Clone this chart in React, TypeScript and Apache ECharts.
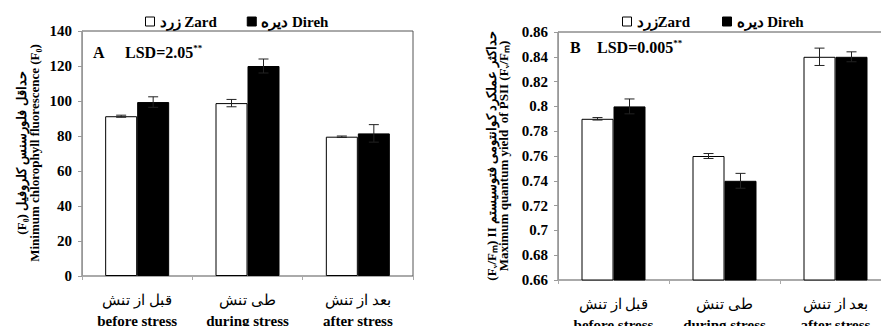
import React, { useEffect, useRef } from "react";
import * as echarts from "echarts";

const categoriesEn = ["before stress", "during stress", "after stress"];
const categoriesFa = ["قبل از تنش", "طی تنش", "بعد از تنش"];
const seriesNames = ["زرد Zard", "دیره Direh"];

// Panel A: minimum chlorophyll fluorescence (F0)
const f0Zard = [91.3, 98.8, 79.6];
const f0ZardErr = [0.6, 2.1, 0.4];
const f0Direh = [99.4, 120, 81.5];
const f0DirehErr = [3, 4, 5];

// Panel B: maximum quantum yield of PSII (Fv/Fm)
const fvfmZard = [0.79, 0.76, 0.84];
const fvfmZardErr = [0.001, 0.002, 0.007];
const fvfmDireh = [0.8, 0.74, 0.84];
const fvfmDirehErr = [0.006, 0.006, 0.004];

const yTicksA = { min: 0, max: 140, interval: 20 };
const yTicksB = { min: 0.66, max: 0.86, interval: 0.02 };

const SERIF = "'Liberation Serif', 'Times New Roman', serif";

function errData(vals: number[], errs: number[]) {
  return vals.map((v, i) => [i, v - errs[i], v + errs[i]]);
}

function errSeries(gridIdx: number, vals: number[], errs: number[], offset: number) {
  return {
    type: "custom",
    xAxisIndex: gridIdx,
    yAxisIndex: gridIdx,
    silent: true,
    z: 5,
    encode: { x: 0, y: [1, 2] },
    data: errData(vals, errs),
    renderItem: (params: any, api: any) => {
      const lo = api.coord([api.value(0), api.value(1)]);
      const hi = api.coord([api.value(0), api.value(2)]);
      const x = lo[0] + offset;
      const half = 5;
      const style = { stroke: "#222", lineWidth: 1 };
      return {
        type: "group",
        children: [
          { type: "line", shape: { x1: x, y1: lo[1], x2: x, y2: hi[1] }, style },
          { type: "line", shape: { x1: x - half, y1: hi[1], x2: x + half, y2: hi[1] }, style },
          { type: "line", shape: { x1: x - half, y1: lo[1], x2: x + half, y2: lo[1] }, style },
        ],
      };
    },
  };
}

function xAxisCfg(gridIndex: number) {
  return {
    type: "category",
    gridIndex,
    data: categoriesEn,
    axisLine: { show: true, lineStyle: { color: "#aaa", width: 1 } },
    axisTick: { show: true, length: 4, lineStyle: { color: "#aaa" } },
    axisLabel: {
      interval: 0,
      margin: 13,
      formatter: (v: string, i: number) => `{fa|${categoriesFa[i]}}\n{en|${v}}`,
      rich: {
        fa: { fontFamily: SERIF, fontSize: 15, fontWeight: "normal", color: "#000", lineHeight: 21 },
        en: { fontFamily: SERIF, fontSize: 15, fontWeight: "bold", color: "#000", lineHeight: 21 },
      },
    },
    splitLine: { show: false },
  };
}

function yAxisCfg(gridIndex: number, t: { min: number; max: number; interval: number }) {
  return {
    type: "value",
    gridIndex,
    min: t.min,
    max: t.max,
    interval: t.interval,
    axisLine: { show: true, lineStyle: { color: "#999", width: 1 } },
    axisTick: { show: true, length: 4, lineStyle: { color: "#999" } },
    axisLabel: {
      margin: 10,
      fontFamily: SERIF,
      fontSize: 15,
      fontWeight: "bold",
      color: "#000",
    },
    splitLine: { show: false },
  };
}

function barSeries(gridIdx: number, name: string, data: number[], white: boolean) {
  return {
    type: "bar",
    name,
    xAxisIndex: gridIdx,
    yAxisIndex: gridIdx,
    data,
    barWidth: 32,
    barGap: "0%",
    itemStyle: white
      ? { color: "#fff", borderColor: "#000", borderWidth: 1 }
      : { color: "#000", borderColor: "#000", borderWidth: 1 },
  };
}

function rotatedTitle(x: number, y: number, text: string) {
  return {
    type: "text",
    x,
    y,
    rotation: Math.PI / 2,
    style: {
      text,
      fontFamily: SERIF,
      fontSize: 13,
      fontWeight: "bold",
      fill: "#000",
      align: "center",
      verticalAlign: "middle",
    },
  };
}

function lsdText(x: number, y: number, text: string) {
  return {
    type: "text",
    x,
    y,
    style: {
      text: `{a|${text}}{s|**}`,
      align: "left",
      verticalAlign: "middle",
      rich: {
        a: { fontFamily: SERIF, fontSize: 16, fontWeight: "bold", fill: "#000" },
        s: { fontFamily: SERIF, fontSize: 9, fontWeight: "bold", fill: "#000", padding: [0, 0, 9, 0] },
      },
    },
  };
}

function letterText(x: number, y: number, text: string) {
  return {
    type: "text",
    x,
    y,
    style: {
      text,
      fontFamily: SERIF,
      fontSize: 16,
      fontWeight: "bold",
      fill: "#000",
      align: "left",
      verticalAlign: "middle",
    },
  };
}

export default function App() {
  const ref = useRef<HTMLDivElement>(null);
  useEffect(() => {
    if (!ref.current) return;
    const chart = echarts.init(ref.current, undefined, { renderer: "svg" });
    const legendBase = {
      orient: "horizontal",
      top: 14,
      padding: 0,
      itemWidth: 9,
      itemHeight: 9,
      icon: "rect",
      selectedMode: false,
      textStyle: { fontFamily: SERIF, fontSize: 15, fontWeight: "bold", color: "#000" },
    };
    const legendData = [
      { name: seriesNames[0], itemStyle: { color: "#fff", borderColor: "#000", borderWidth: 1 } },
      { name: seriesNames[1], itemStyle: { color: "#000", borderColor: "#000", borderWidth: 1 } },
    ];
    chart.setOption({
      animation: false,
      backgroundColor: "#fff",
      legend: [
        { ...legendBase, left: 145, itemGap: 30, data: legendData },
        {
          ...legendBase,
          left: 622,
          itemGap: 32,
          data: legendData,
          formatter: (n: string) => (n === seriesNames[0] ? n.replace(" ", "") : n),
        },
      ],
      grid: [
        {
          left: 82,
          top: 31,
          width: 331,
          height: 245,
          show: true,
          borderColor: "#555",
          borderWidth: 1,
          containLabel: false,
          outerBoundsMode: "none",
        },
        {
          left: 558,
          top: 32,
          width: 333,
          height: 248,
          show: true,
          borderColor: "#555",
          borderWidth: 1,
          containLabel: false,
          outerBoundsMode: "none",
        },
      ],
      xAxis: [xAxisCfg(0), xAxisCfg(1)],
      yAxis: [yAxisCfg(0, yTicksA), yAxisCfg(1, yTicksB)],
      series: [
        barSeries(0, seriesNames[0], f0Zard, true),
        barSeries(0, seriesNames[1], f0Direh, false),
        barSeries(1, seriesNames[0], fvfmZard, true),
        barSeries(1, seriesNames[1], fvfmDireh, false),
        errSeries(0, f0Zard, f0ZardErr, -16),
        errSeries(0, f0Direh, f0DirehErr, 16),
        errSeries(1, fvfmZard, fvfmZardErr, -16),
        errSeries(1, fvfmDireh, fvfmDirehErr, 16),
      ],
      graphic: [
        rotatedTitle(21.5, 153, "(F₀) حداقل فلورسنس کلروفیل"),
        rotatedTitle(34.5, 153, "Minimum chlorophyll fluorescence (F₀)"),
        rotatedTitle(491, 156, "(Fᵥ/Fₘ) II حداکثر عملکرد کوانتومی فتوسیستم"),
        rotatedTitle(503.5, 156, "Maximum quantum yield  of PSII (Fᵥ/Fₘ)"),
        letterText(93, 52, "A"),
        lsdText(125, 52, "LSD=2.05"),
        letterText(570, 47, "B"),
        lsdText(597, 47, "LSD=0.005"),
      ],
    });
    return () => chart.dispose();
  }, []);
  return (
    <div
      ref={ref}
      style={{ position: "absolute", left: 0, top: 0, width: 881, height: 326 }}
    />
  );
}
